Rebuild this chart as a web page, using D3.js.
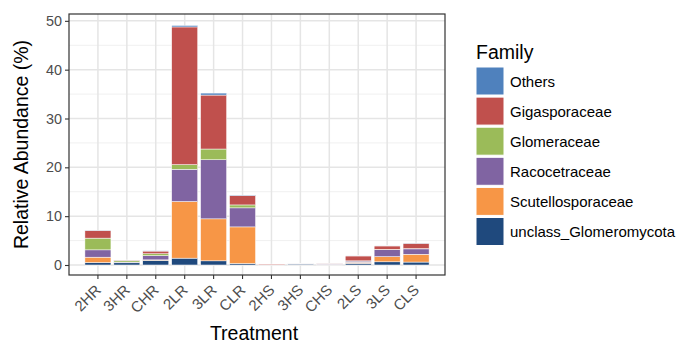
<!DOCTYPE html>
<html>
<head>
<meta charset="utf-8">
<script src="https://cdn.jsdelivr.net/npm/d3@7"></script>
<style>
  html, body { margin: 0; padding: 0; background: #fff; }
  svg { display: block; font-family: "Liberation Sans", Arial, Helvetica, sans-serif; }
</style>
</head>
<body>
<svg id="chart" width="693" height="343"></svg>
<script>
// Treatments on the x axis
const treatments = ["2HR", "3HR", "CHR", "2LR", "3LR", "CLR", "2HS", "3HS", "CHS", "2LS", "3LS", "CLS"];

// Families, from top of the stack (legend order) to bottom
const families = ["Others", "Gigasporaceae", "Glomeraceae", "Racocetraceae", "Scutellosporaceae", "unclass_Glomeromycota"];
const familyColors = ["#4f81bd", "#c0504d", "#9bbb59", "#8064a2", "#f79646", "#1f497d"];

// Relative abundance (%) per family, one value per treatment
const others            = [0.05, 0.02, 0.05, 0.30, 0.40, 0.10, 0.00, 0.01, 0.01, 0.05, 0.05, 0.05];
const gigasporaceae     = [1.55, 0.10, 0.55, 28.2, 11.05, 1.90, 0.12, 0.02, 0.06, 1.00, 0.70, 1.10];
const glomeraceae       = [2.40, 0.30, 0.40, 0.95, 2.20, 0.60, 0.01, 0.01, 0.01, 0.05, 0.05, 0.05];
const racocetraceae     = [1.50, 0.10, 0.85, 6.60, 12.1, 3.90, 0.01, 0.03, 0.12, 0.25, 1.45, 1.10];
const scutellosporaceae = [1.10, 0.05, 0.10, 11.6, 8.60, 7.50, 0.02, 0.02, 0.03, 0.20, 1.05, 1.60];
const unclassGlomero    = [0.50, 0.45, 0.95, 1.40, 0.85, 0.30, 0.03, 0.20, 0.12, 0.35, 0.65, 0.60];

const yTicks = [0, 10, 20, 30, 40, 50];
const yMinor = [5, 15, 25, 35, 45];

const seriesValues = {
  "Others": others,
  "Gigasporaceae": gigasporaceae,
  "Glomeraceae": glomeraceae,
  "Racocetraceae": racocetraceae,
  "Scutellosporaceae": scutellosporaceae,
  "unclass_Glomeromycota": unclassGlomero
};

const rows = treatments.map((t, i) => {
  const r = { treatment: t };
  families.forEach(f => { r[f] = seriesValues[f][i]; });
  return r;
});

const svg = d3.select("#chart");
const panel = { left: 69, right: 445, top: 14, bottom: 275 };

// Discrete axis with 0.6 category of space at each end; bars fill 90% of a step
const x = d3.scaleBand()
  .domain(treatments)
  .range([panel.left, panel.right])
  .paddingInner(0.1)
  .paddingOuter(0.55);

const y = d3.scaleLinear()
  .domain([-2.05, 51.4])
  .range([panel.bottom, panel.top]);

const color = d3.scaleOrdinal().domain(families).range(familyColors);

// Panel background and grid
svg.append("rect")
  .attr("x", panel.left).attr("y", panel.top)
  .attr("width", panel.right - panel.left).attr("height", panel.bottom - panel.top)
  .attr("fill", "#ffffff");

const grid = svg.append("g");
grid.selectAll("line.minor").data(yMinor).join("line")
  .attr("class", "minor")
  .attr("x1", panel.left).attr("x2", panel.right)
  .attr("y1", d => y(d)).attr("y2", d => y(d))
  .attr("stroke", "#f0f0f0").attr("stroke-width", 1);
grid.selectAll("line.major").data(yTicks).join("line")
  .attr("class", "major")
  .attr("x1", panel.left).attr("x2", panel.right)
  .attr("y1", d => y(d)).attr("y2", d => y(d))
  .attr("stroke", "#e5e5e5").attr("stroke-width", 1.5);
grid.selectAll("line.vmajor").data(treatments).join("line")
  .attr("class", "vmajor")
  .attr("x1", d => x(d) + x.bandwidth() / 2).attr("x2", d => x(d) + x.bandwidth() / 2)
  .attr("y1", panel.top).attr("y2", panel.bottom)
  .attr("stroke", "#e5e5e5").attr("stroke-width", 1.5);

// Stacked bars: bottom of stack is the last family in the legend
const stackOrder = families.slice().reverse();
const stacked = d3.stack().keys(stackOrder)(rows);

svg.append("g").selectAll("g").data(stacked).join("g")
  .attr("fill", d => color(d.key))
  .selectAll("rect").data(d => d).join("rect")
  .attr("x", d => x(d.data.treatment))
  .attr("width", x.bandwidth())
  .attr("y", d => y(d[1]))
  .attr("height", d => Math.max(0, y(d[0]) - y(d[1])))
  .attr("stroke", "#ffffff")
  .attr("stroke-width", 0.5);

// Panel border
svg.append("rect")
  .attr("x", panel.left).attr("y", panel.top)
  .attr("width", panel.right - panel.left).attr("height", panel.bottom - panel.top)
  .attr("fill", "none").attr("stroke", "#333333").attr("stroke-width", 1.2);

// Y axis
const yAxis = svg.append("g")
  .attr("transform", `translate(${panel.left},0)`)
  .call(d3.axisLeft(y).tickValues(yTicks).tickSize(4).tickPadding(3));
yAxis.select(".domain").remove();
yAxis.selectAll(".tick line").attr("stroke", "#333333").attr("stroke-width", 1.1);
yAxis.selectAll(".tick text")
  .attr("fill", "#4d4d4d").attr("font-size", 14.4)
  .attr("font-family", "Liberation Sans, Arial, sans-serif");

// X axis
const xAxis = svg.append("g")
  .attr("transform", `translate(0,${panel.bottom})`)
  .call(d3.axisBottom(x).tickSize(4).tickPadding(3));
xAxis.select(".domain").remove();
xAxis.selectAll(".tick line").attr("stroke", "#333333").attr("stroke-width", 1.1);
xAxis.selectAll(".tick text")
  .attr("fill", "#4d4d4d").attr("font-size", 15)
  .attr("font-family", "Liberation Sans, Arial, sans-serif")
  .attr("text-anchor", "end")
  .attr("dy", null)
  .attr("y", 0)
  .attr("transform", "translate(4,16) rotate(-45)");

// Axis titles
svg.append("text")
  .attr("x", (panel.left + panel.right) / 2 - 3).attr("y", 340)
  .attr("text-anchor", "middle").attr("font-size", 19.5).attr("fill", "#000")
  .text("Treatment");
svg.append("text")
  .attr("transform", `translate(28,${(panel.top + panel.bottom) / 2}) rotate(-90)`)
  .attr("text-anchor", "middle").attr("font-size", 19.5).attr("fill", "#000")
  .text("Relative Abundance (%)");

// Legend
const legend = svg.append("g").attr("transform", "translate(476,0)");
legend.append("text").attr("x", 0).attr("y", 59)
  .attr("font-size", 19.5).attr("fill", "#000").text("Family");
const item = legend.selectAll("g.item").data(families).join("g")
  .attr("class", "item")
  .attr("transform", (d, i) => `translate(0,${67 + i * 30.1})`);
item.append("rect")
  .attr("x", 0).attr("y", 0).attr("width", 28).attr("height", 28)
  .attr("fill", d => color(d)).attr("stroke", "#ffffff").attr("stroke-width", 1);
item.append("text")
  .attr("x", 34).attr("y", 19.5)
  .attr("font-size", 15).attr("fill", "#000").text(d => d);
</script>
</body>
</html>
